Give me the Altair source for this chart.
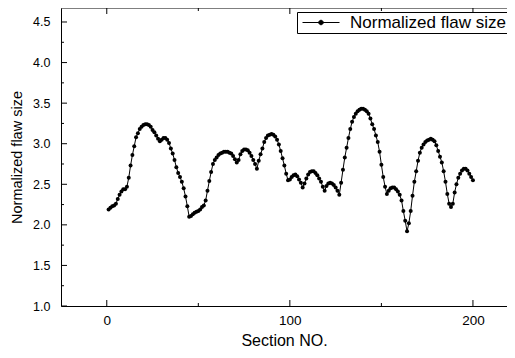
import altair as alt
import pandas as pd

sections = list(range(1, 201))
flaw = [
    2.19, 2.21, 2.23, 2.24, 2.26, 2.32, 2.37, 2.41, 2.44, 2.44,
    2.47, 2.58, 2.73, 2.86, 2.97, 3.08, 3.13, 3.18, 3.21, 3.23,
    3.24, 3.24, 3.23, 3.21, 3.17, 3.14, 3.10, 3.06, 3.03, 3.05,
    3.07, 3.07, 3.05, 3.01, 2.94, 2.88, 2.80, 2.71, 2.64, 2.59,
    2.53, 2.45, 2.35, 2.23, 2.10, 2.11, 2.13, 2.15, 2.16, 2.17,
    2.19, 2.22, 2.24, 2.30, 2.42, 2.54, 2.65, 2.75, 2.80, 2.83,
    2.86, 2.88, 2.89, 2.90, 2.90, 2.90, 2.89, 2.88, 2.85, 2.81,
    2.77, 2.80, 2.87, 2.91, 2.93, 2.93, 2.92, 2.89, 2.85, 2.80,
    2.75, 2.69, 2.79, 2.87, 2.94, 3.02, 3.07, 3.10, 3.11, 3.12,
    3.11, 3.09, 3.05, 2.99, 2.91, 2.82, 2.73, 2.63, 2.55, 2.56,
    2.59, 2.61, 2.62, 2.60, 2.56, 2.52, 2.46, 2.51, 2.57, 2.62,
    2.65, 2.66, 2.66, 2.64, 2.61, 2.57, 2.53, 2.47, 2.42, 2.48,
    2.51, 2.52, 2.51, 2.49, 2.46, 2.42, 2.37, 2.52, 2.68, 2.83,
    2.95, 3.07, 3.18, 3.27, 3.33, 3.37, 3.40, 3.42, 3.43, 3.43,
    3.42, 3.40, 3.37, 3.31, 3.24, 3.18, 3.10, 3.02, 2.90, 2.74,
    2.59, 2.47, 2.38, 2.42, 2.45, 2.46, 2.46, 2.44, 2.41, 2.37,
    2.30, 2.17, 2.05, 1.92, 2.02, 2.17, 2.36, 2.53, 2.66, 2.79,
    2.89, 2.95, 2.99, 3.02, 3.04, 3.05, 3.06, 3.05, 3.03, 2.98,
    2.91, 2.84, 2.77, 2.66, 2.53, 2.38, 2.26, 2.22, 2.26, 2.40,
    2.50, 2.58, 2.63, 2.67, 2.69, 2.69, 2.67, 2.63, 2.59, 2.55,
]
series_name = "Normalized flaw size"

x_major = [0, 100, 200]
x_minor = [50, 150]
y_major = [1.0, 1.5, 2.0, 2.5, 3.0, 3.5, 4.0, 4.5]
y_minor = [1.25, 1.75, 2.25, 2.75, 3.25, 3.75, 4.25]

W, H = 446, 298
XDOM = [-25, 218.6]
YDOM = [1.0, 4.6725]
FONT = "Liberation Sans"

df = pd.DataFrame({"section": sections, "flaw": flaw, "series": series_name})

xs = alt.Scale(domain=XDOM, nice=False, zero=False)
ys = alt.Scale(domain=YDOM, nice=False, zero=False)

x_axis = alt.Axis(values=x_major, format="d", ticks=False, grid=False,
                  domainColor="black", domainWidth=1,
                  labelFont=FONT, labelFontSize=13.5, labelColor="black", labelPadding=7,
                  title="Section NO.", titleFont=FONT, titleFontSize=16,
                  titleFontWeight="normal", titleColor="black", titlePadding=6)
y_axis = alt.Axis(values=y_major, format=".1f", ticks=False, grid=False,
                  domainColor="black", domainWidth=1,
                  labelFont=FONT, labelFontSize=12.5, labelColor="black", labelPadding=11,
                  title="Normalized flaw size", titleFont=FONT, titleFontSize=14.5,
                  titleFontWeight="normal", titleColor="black", titlePadding=8)

legend_symbol = "M-1,0L6.4,0M3.15,0A0.45,0.45,0,1,1,2.25,0A0.45,0.45,0,1,1,3.15,0Z"

line = alt.Chart(df).mark_line(color="black", strokeWidth=1).encode(
    x=alt.X("section:Q", scale=xs, axis=x_axis),
    y=alt.Y("flaw:Q", scale=ys, axis=y_axis),
)
pts = alt.Chart(df).mark_point(filled=True, size=16, opacity=1).encode(
    x=alt.X("section:Q", scale=xs),
    y=alt.Y("flaw:Q", scale=ys),
    color=alt.Color("series:N", scale=alt.Scale(range=["black"]),
                    legend=alt.Legend(title=None, orient="none", legendX=236, legendY=4,
                                      symbolType=legend_symbol, symbolSize=100,
                                      symbolFillColor="black", symbolStrokeColor="black",
                                      symbolStrokeWidth=1, labelFont=FONT, labelFontSize=17,
                                      labelColor="black", labelOffset=34, padding=2,
                                      strokeColor="black", fillColor="white")),
)

xmaj = pd.DataFrame({"section": x_major})
xmin = pd.DataFrame({"section": x_minor})
ymaj = pd.DataFrame({"flaw": y_major})
ymin = pd.DataFrame({"flaw": y_minor})

def xticks(d, length, top):
    if top:
        return alt.Chart(d).mark_rule(color="black", strokeWidth=1).encode(
            x=alt.X("section:Q", scale=xs), y=alt.value(0), y2=alt.value(length))
    return alt.Chart(d).mark_rule(color="black", strokeWidth=1).encode(
        x=alt.X("section:Q", scale=xs), y=alt.value(H), y2=alt.value(H - length))

def yticks(d, length):
    return alt.Chart(d).mark_rule(color="black", strokeWidth=1).encode(
        y=alt.Y("flaw:Q", scale=ys), x=alt.value(0), x2=alt.value(length))

top_line = alt.Chart(pd.DataFrame({"a": [0]})).mark_rule(color="black", strokeWidth=1).encode(
    x=alt.value(0), x2=alt.value(W), y=alt.value(0))

chart = alt.layer(
    line, pts,
    xticks(xmaj, 6, False), xticks(xmin, 3, False),
    xticks(xmaj, 6, True), xticks(xmin, 3, True),
    yticks(ymaj, 6), yticks(ymin, 3),
    top_line,
).properties(
    width=W, height=H,
    padding={"left": 53, "top": 0, "right": 0, "bottom": 44},
    autosize=alt.AutoSizeParams(type="none"),
    background="white",
).configure_view(stroke=None)

chart.save("out.html", embed_options={"renderer": "svg", "actions": False})
